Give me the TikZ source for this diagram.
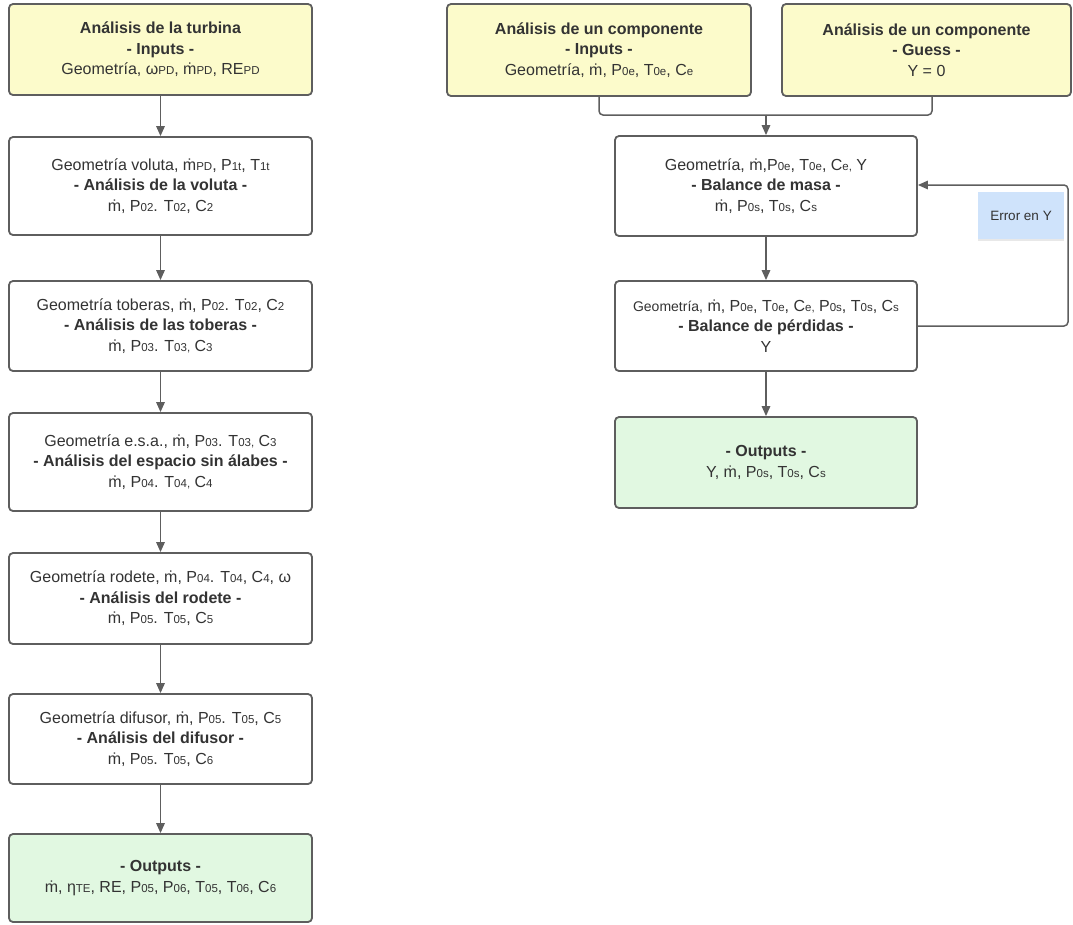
\documentclass[tikz,border=0pt]{standalone}
\usepackage{fontspec}
\setmainfont{Liberation Sans}
\usetikzlibrary{arrows.meta,shadows}

\definecolor{ink}{HTML}{333333}
\definecolor{edge}{HTML}{5E5E5E}
\definecolor{inyellow}{HTML}{FCFBCB}
\definecolor{outgreen}{HTML}{E1F8E1}
\definecolor{noteblue}{HTML}{CFE3FB}

% small index text set on the baseline
\newcommand{\sbs}[1]{{\fontsize{11.5}{10}\selectfont #1}}
% mass flow symbol: m with a dot above
\newcommand{\md}{\iffontchar\font"1E41 ṁ\else
  \leavevmode\hbox{\ooalign{m\cr\hidewidth\raisebox{0.56em}{.}\hidewidth\cr}}\fi}

\tikzset{
  box/.style={draw=edge, line width=1.8pt, rounded corners=4pt, fill=white,
    text=ink, align=center, inner sep=0pt,
    font=\fontsize{16}{20.5}\selectfont},
  inbox/.style={box, fill=inyellow},
  outbox/.style={box, fill=outgreen},
  notebox/.style={fill=noteblue, text=ink, inner sep=0pt,
    font=\fontsize{13.5}{16}\selectfont,
    drop shadow={shadow xshift=0pt, shadow yshift=-1.5pt, opacity=0.18}},
  conn/.style={draw=edge, line width=1.5pt, rounded corners=4pt},
  arr/.style={conn, -{Triangle[length=10pt,width=8.5pt]}},
}

\begin{document}
\begin{tikzpicture}[x=1pt,y=-1pt]
\useasboundingbox (0,0) rectangle (1073,924);

% ---- turbine analysis chain ----
\node[inbox, minimum width=303pt, minimum height=91pt] (t0) at (160.5,49.5)
  {\textbf{Análisis de la turbina}\\ \textbf{- Inputs -}\\
   Geometría, ω\sbs{PD}, \md\sbs{PD}, RE\sbs{PD}};
\node[box, minimum width=303pt, minimum height=98pt] (t1) at (160.5,186)
  {Geometría voluta, \md\sbs{PD}, P\sbs{1t}, T\sbs{1t}\\
   \textbf{- Análisis de la voluta -}\\
   \md, P\sbs{02}. T\sbs{02}, C\sbs{2}};
\node[box, minimum width=303pt, minimum height=90pt] (t2) at (160.5,326)
  {Geometría toberas, \md, P\sbs{02}. T\sbs{02}, C\sbs{2}\\
   \textbf{- Análisis de las toberas -}\\
   \md, P\sbs{03}. T\sbs{03,} C\sbs{3}};
\node[box, minimum width=303pt, minimum height=98pt] (t3) at (160.5,462)
  {Geometría e.s.a., \md, P\sbs{03}. T\sbs{03,} C\sbs{3}\\
   \textbf{- Análisis del espacio sin álabes -}\\
   \md, P\sbs{04}. T\sbs{04,} C\sbs{4}};
\node[box, minimum width=303pt, minimum height=91pt] (t4) at (160.5,598.5)
  {Geometría rodete, \md, P\sbs{04}. T\sbs{04}, C\sbs{4}, ω\\
   \textbf{- Análisis del rodete -}\\
   \md, P\sbs{05}. T\sbs{05}, C\sbs{5}};
\node[box, minimum width=303pt, minimum height=90pt] (t5) at (160.5,739)
  {Geometría difusor, \md, P\sbs{05}. T\sbs{05}, C\sbs{5}\\
   \textbf{- Análisis del difusor -}\\
   \md, P\sbs{05}. T\sbs{05}, C\sbs{6}};
\node[outbox, minimum width=303pt, minimum height=88pt] (t6) at (160.5,878)
  {\textbf{- Outputs -}\\
   \md, η\sbs{TE}, RE, P\sbs{05}, P\sbs{06}, T\sbs{05}, T\sbs{06}, C\sbs{6}};

\foreach \a/\b in {t0/t1,t1/t2,t2/t3,t3/t4,t4/t5,t5/t6}
  \draw[arr] (\a.south) -- (\b.north);

% ---- single component analysis ----
\node[inbox, minimum width=304pt, minimum height=92pt] (cin) at (599,50)
  {\textbf{Análisis de un componente}\\ \textbf{- Inputs -}\\
   Geometría, \md, P\sbs{0e}, T\sbs{0e}, C\sbs{e}};
\node[inbox, minimum width=289pt, minimum height=92pt] (cguess) at (926.5,50)
  {\textbf{Análisis de un componente}\\ \textbf{- Guess -}\\ Y = 0};
\node[box, minimum width=302pt, minimum height=100pt] (cmass) at (766,186)
  {Geometría, \md,P\sbs{0e}, T\sbs{0e}, C\sbs{e,} Y\\
   \textbf{- Balance de masa -}\\
   \md, P\sbs{0s}, T\sbs{0s}, C\sbs{s}};
\node[box, minimum width=302pt, minimum height=90pt] (closs) at (766,326)
  {{\fontsize{14}{16}\selectfont Geometría,} \md, P\sbs{0e}, T\sbs{0e}, C\sbs{e,} P\sbs{0s}, T\sbs{0s}, C\sbs{s}\\
   \textbf{- Balance de pérdidas -}\\ Y};
\node[outbox, minimum width=302pt, minimum height=91pt] (cout) at (766,462.5)
  {\textbf{- Outputs -}\\ Y, \md, P\sbs{0s}, T\sbs{0s}, C\sbs{s}};
\node[notebox, minimum width=86pt, minimum height=47pt] (cnote) at (1021,215.5)
  {Error en Y};

% merge of inputs and guess
\coordinate (cjoin) at (766,115);
\draw[conn] (cin.south) |- (cjoin);
\draw[conn] ([xshift=5.5pt]cguess.south) |- (cjoin);
\draw[arr] (cjoin) -- (cmass.north);

\draw[arr] (cmass.south) -- (closs.north);
\draw[arr] (closs.south) -- (cout.north);

% iteration loop on Y
\coordinate (cloop) at (1068,250);
\draw[arr] (closs.east) -| (cloop) |- ([yshift=1pt]cmass.east);

\end{tikzpicture}
\end{document}
